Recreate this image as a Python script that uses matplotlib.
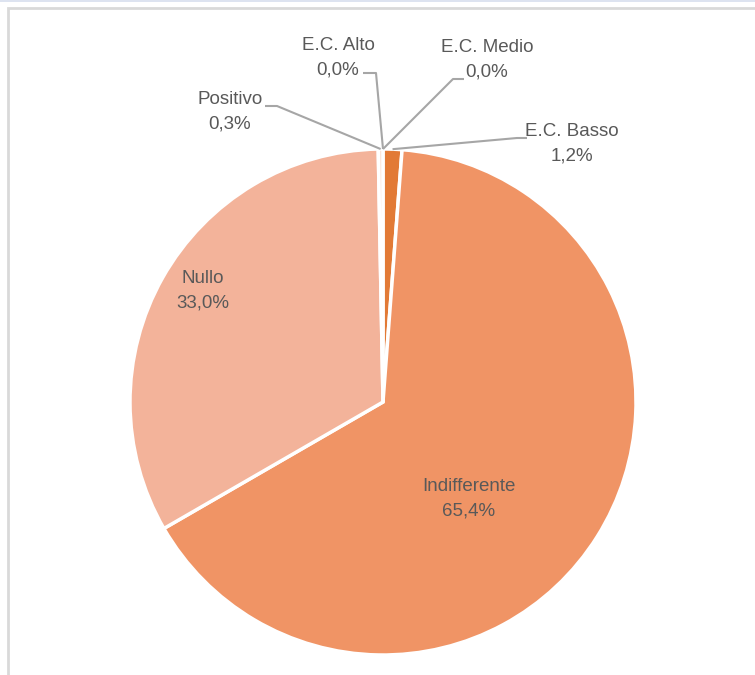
import numpy as np
import matplotlib
matplotlib.use('Agg')
import matplotlib.pyplot as plt
from matplotlib.patches import Rectangle

plt.rcParams['font.family'] = ['Liberation Sans', 'DejaVu Sans']

# dati (ordine orario a partire dalle ore 12)
categorie = ['E.C. Alto', 'E.C. Medio', 'E.C. Basso', 'Indifferente', 'Nullo', 'Positivo']
valori = [0.0, 0.0, 1.2, 65.4, 33.0, 0.3]
etichette_pct = ['0,0%', '0,0%', '1,2%', '65,4%', '33,0%', '0,3%']
colori = ['#c55a11', '#d86c2c', '#e27a36', '#f09465', '#f3b39a', '#fbe5d8']

W, H = 755, 675
fig = plt.figure(figsize=(W / 100, H / 100), dpi=100)
ax = fig.add_axes([0, 0, 1, 1])

cx, cy, r = 383, H - 402, 253
wedges, _ = ax.pie(valori, colors=colori, startangle=90, counterclock=False,
                   center=(cx, cy), radius=r, frame=True,
                   wedgeprops=dict(edgecolor='white', linewidth=2.5))
ax.set_xlim(0, W)
ax.set_ylim(0, H)
ax.set_aspect('equal')
ax.axis('off')

testo = '#595959'
linea = '#a6a6a6'
fs = 13.5
ls = 1.6

# etichette interne
interne = {'Indifferente': (469, 499), 'Nullo': (203, 291)}
# etichette esterne: posizione testo, punto di attacco della linea
esterne = {
    'E.C. Alto': ((338, 58), (363, 73), (376, 73)),
    'E.C. Medio': ((487, 60), (464, 79), (453, 79)),
    'E.C. Basso': ((572, 144), (527, 138), (517, 138)),
    'Positivo': ((230, 112), (265, 106), (277, 106)),
}

for w, cat, pct in zip(wedges, categorie, etichette_pct):
    if cat in interne:
        x, y = interne[cat]
        ax.text(x, H - y, f'{cat}\n{pct}', ha='center', va='center',
                fontsize=fs, color=testo, linespacing=ls)
    else:
        (tx, ty), (ax0, ay0), (ax1, ay1) = esterne[cat]
        ax.text(tx, H - ty, f'{cat}\n{pct}', ha='center', va='center',
                fontsize=fs, color=testo, linespacing=ls)
        ang = np.deg2rad((w.theta1 + w.theta2) / 2)
        px, py = cx + r * np.cos(ang), cy + r * np.sin(ang)
        ax.plot([ax0, ax1, px], [H - ay0, H - ay1, py], color=linea, lw=1.5,
                solid_capstyle='butt', zorder=5)

# cornice
ax.add_patch(Rectangle((7.5, -5), W, H - 7.5 + 5, fill=False,
                       edgecolor='#d9d9d9', lw=2, zorder=0))
ax.add_patch(Rectangle((0, H - 1.5), W, 1.5, color='#dde3f0', lw=0, zorder=0))

fig.savefig('out.png', dpi=100)
